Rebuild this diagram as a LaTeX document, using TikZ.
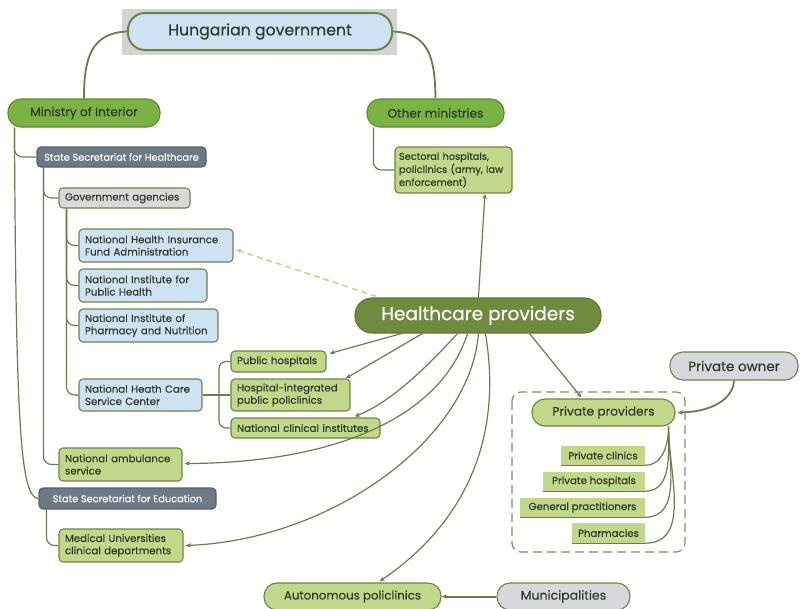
\documentclass[tikz,border=0pt]{standalone}
\usepackage{fontspec}
\setmainfont{Poppins}[FakeBold=0.35]
\usetikzlibrary{arrows.meta,calc}
\definecolor{bord}{HTML}{6E8446}
\definecolor{lnc}{HTML}{6B7D4B}
\definecolor{mgreen}{HTML}{7BB244}
\definecolor{mbord}{HTML}{5E8A34}
\definecolor{hpfill}{HTML}{6F8B3F}
\definecolor{lgreen}{HTML}{C3D78A}
\definecolor{lblue}{HTML}{CFE2F3}
\definecolor{slate}{HTML}{6C7A86}
\definecolor{lgray}{HTML}{D9D9D9}
\definecolor{pgray}{HTML}{D6D8DB}
\definecolor{titlebg}{HTML}{D3D3D3}
\definecolor{txt}{HTML}{2E3B2A}
\definecolor{dashc}{HTML}{C3D78A}
\tikzset{
  base/.style={draw=bord, line width=1.1pt, rounded corners=4pt, text=txt, inner xsep=6pt, inner ysep=0pt, font=\fontsize{10.2}{12.3}\selectfont},
  sz/.style 2 args={minimum width=#1, minimum height=#2},
  lt/.style={text width=#1, align=left},
  pill/.style={base, rounded corners=13pt, font=\fontsize{12.2}{14}\selectfont},
  bluebox/.style={base, fill=lblue},
  greenbox/.style={base, fill=lgreen},
  slatebox/.style={base, fill=slate, draw=slate!80!black, text=white, font=\fontsize{9.8}{12}\selectfont},
  graybox/.style={base, fill=lgray},
  item/.style={fill=lgreen, text=txt, inner xsep=5pt, inner ysep=0pt, font=\fontsize{10.2}{12}\selectfont},
  conn/.style={draw=lnc, line width=1.2pt},
  arr/.style={conn, -{Stealth[length=5.5pt,width=4.5pt]}},
}
\begin{document}
\begin{tikzpicture}[x=1pt,y=-1pt]
\useasboundingbox (0,0) rectangle (800,608);
% title
\fill[titlebg] (122,9) rectangle (397,55);
\node[base, fill=lblue, line width=2pt, rounded corners=17pt, sz={264}{37}, font=\fontsize{15.7}{19}\selectfont] (hg) at (260,31.5) {Hungarian government};
% ministries
\node[pill, fill=mgreen, draw=mbord, sz={152}{28}] (moi) at (84,113) {Ministry of Interior};
\node[pill, fill=mgreen, draw=mbord, sz={137}{28}] (om) at (435.5,113) {Other ministries};
\draw[conn, line width=1.8pt] (hg.west) .. controls (90,33) and (84,60) .. (moi.north);
\draw[conn, line width=1.8pt] (hg.east) .. controls (430,33) and (435,60) .. (om.north);
% ministry of interior tree
\node[slatebox, sz={169}{20}] (ssh) at (121.5,157) {State Secretariat for Healthcare};
\node[graybox, sz={131}{20}, lt={119pt}] (ga) at (124.5,198) {Government agencies};
\node[bluebox, sz={154}{33}, lt={142pt}] (nhifa) at (156,245.5) {National Health Insurance\\Fund Administration};
\node[bluebox, sz={128}{33}, lt={116pt}] (niph) at (143,285.5) {National Institute for\\Public Health};
\node[bluebox, sz={139}{33}, lt={127pt}] (nipn) at (148.5,325.5) {National Institute of\\Pharmacy and Nutrition};
\node[bluebox, sz={123}{32}, lt={111pt}] (nhcsc) at (140.5,395) {National Heath Care\\Service Center};
\node[greenbox, sz={95}{21}, lt={83pt}] (pubh) at (278.5,361.5) {Public hospitals};
\node[greenbox, sz={119}{32}, lt={107pt}] (hipp) at (290.5,395) {Hospital-integrated\\public policlinics};
\node[greenbox, sz={149}{20}, lt={137pt}] (nci) at (305.5,428) {National clinical institutes};
\node[greenbox, sz={123}{33}, lt={111pt}] (amb) at (120.5,464.5) {National ambulance\\service};
\node[slatebox, sz={177}{21}] (sse) at (127.5,498.5) {State Secretariat for Education};
\node[greenbox, sz={124}{33}, lt={112pt}] (medu) at (121,545.5) {Medical Universities\\clinical departments};
\draw[conn, rounded corners=8pt] ($(moi.south west)+(7,0)$) |- (ssh.west);
\draw[conn] ($(moi.south west)+(7,0)$) .. controls (16,420) and (20,498.5) .. (sse.west);
\draw[conn, rounded corners=8pt] ($(ssh.south west)+(7,0)$) |- (ga.west);
\draw[conn, rounded corners=8pt] ($(ssh.south west)+(7,0)$) |- (amb.west);
\draw[conn, rounded corners=8pt] ($(ga.south west)+(8,0)$) |- (nhifa.west);
\draw[conn, rounded corners=8pt] ($(ga.south west)+(8,0)$) |- (niph.west);
\draw[conn, rounded corners=8pt] ($(ga.south west)+(8,0)$) |- (nipn.west);
\draw[conn, rounded corners=8pt] ($(ga.south west)+(8,0)$) |- (nhcsc.west);
\coordinate (fork) at (219,395);
\draw[conn] (nhcsc.east) -- (hipp.west);
\draw[conn, rounded corners=7pt] (fork) |- (pubh.west);
\draw[conn, rounded corners=7pt] (fork) |- (nci.west);
\draw[conn, rounded corners=8pt] ($(sse.south west)+(8,0)$) |- (medu.west);
% other ministries
\node[greenbox, sz={117}{46}, inner xsep=4pt, lt={109pt}, font=\fontsize{9.8}{13}\selectfont] (sect) at (453.5,170) {Sectoral hospitals,\\policlinics (army, law\\enforcement)};
\draw[conn, rounded corners=8pt] ($(om.south west)+(7,0)$) |- (sect.west);
% bottom nodes
\node[pill, fill=lgreen, sz={177}{27}, font=\fontsize{11.8}{14}\selectfont] (aut) at (352.5,596.5) {Autonomous policlinics};
\node[pill, fill=pgray, sz={133}{27}, font=\fontsize{12.5}{14}\selectfont] (mun) at (563.5,596.5) {Municipalities};
\draw[arr, line width=2pt] (mun.west) -- (aut.east);
% healthcare providers
\node[base, fill=hpfill, draw=hpfill!85!black, text=white, rounded corners=17pt, sz={246}{35}, font=\fontsize{18.5}{22}\selectfont] (hp) at (478,315.5) {Healthcare providers};
\draw[arr] ($(hp.north west)+(124,0)$) -- (sect.south -| 485,0);
\draw[draw=dashc, dashed, dash pattern=on 6pt off 4pt, line width=1.6pt, -{Stealth[length=6pt,width=5pt]}] ($(hp.north west)+(22,-1)$) -- ($(nhifa.east)+(2,4)$);
\draw[arr] ($(hp.south west)+(47,0)$) -- ($(pubh.east)+(3,-8)$);
\draw[arr] ($(hp.south west)+(68,0)$) -- ($(hipp.north east)+(-5,0)$);
\draw[arr] ($(hp.south west)+(103,0)$) .. controls (420,375) and (385,405) .. ($(nci.north east)+(-26,-1)$);
\draw[arr] ($(hp.south west)+(113,0)$) .. controls (440,420) and (330,463) .. ($(amb.east)+(2,-1)$);
\draw[arr] ($(hp.south west)+(124,0)$) .. controls (470,440) and (330,540) .. ($(medu.east)+(2,0)$);
\draw[arr] ($(hp.south west)+(131,0)$) .. controls (505,450) and (455,530) .. ($(aut.north)+(27,-1)$);
% private
\draw[conn, dashed, dash pattern=on 9pt off 5pt, rounded corners=9pt, draw=lnc!85] (512,392) rectangle (685,552);
\node[pill, fill=lgreen, sz={143}{27}] (pp) at (603.5,412.5) {Private providers};
\node[pill, fill=pgray, sz={128}{28}, font=\fontsize{13.5}{15}\selectfont] (pown) at (734,366) {Private owner};
\draw[arr] ($(hp.south west)+(175,0)$) -- ($(pp.north west)+(50,-1)$);
\draw[arr, line width=1.8pt] (pown.south) .. controls (733,400) and (710,412) .. ($(pp.east)+(2,0)$);
\node[item, sz={84}{19}] (pcl) at (603,455.5) {Private clinics};
\node[item, sz={102}{19}] (phos) at (594,481.5) {Private hospitals};
\node[item, sz={125}{19}] (gp) at (582.5,507.5) {General practitioners};
\node[item, sz={73}{20}] (pharm) at (608.5,533) {Pharmacies};
\coordinate (ppo) at ($(pp.south east)+(-7,0)$);
\foreach \n in {pcl,phos,gp,pharm}{
  \draw[conn] (\n.south west) -- (\n.south east);
  \draw[conn] (ppo) to[out=-90,in=0] (\n.south east);
}
\end{tikzpicture}
\end{document}
